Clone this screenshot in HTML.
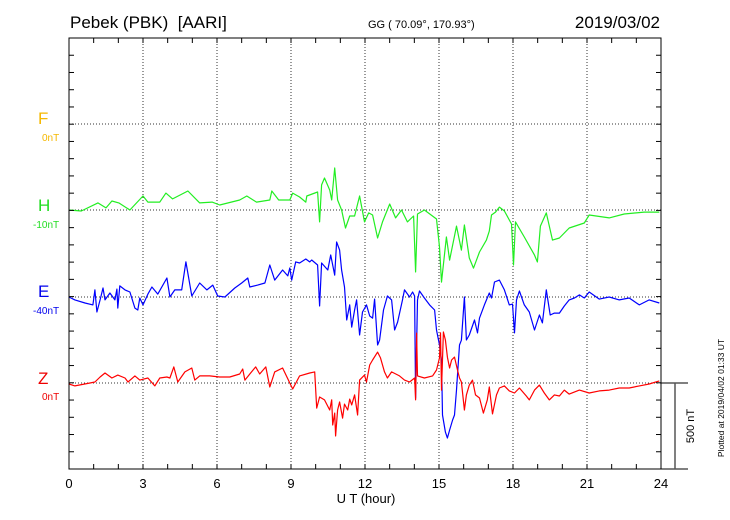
<!DOCTYPE html>
<html><head><meta charset="utf-8">
<style>
body{margin:0;background:#fff;}
svg{display:block;font-family:"Liberation Sans",sans-serif;}
</style></head>
<body>
<svg id="chart" width="730" height="520" viewBox="0 0 730 520" xmlns="http://www.w3.org/2000/svg">
<text x="70" y="28" font-size="17">Pebek (PBK)&#160; [AARI]</text>
<text x="368" y="28" font-size="11">GG ( 70.09°, 170.93°)</text>
<text x="660" y="28" font-size="17" text-anchor="end">2019/03/02</text>
<g id="grid"></g>
<g id="series"></g>
<rect x="69" y="38" width="592" height="431" fill="none" stroke="#000" stroke-width="1"/>
<g id="ticks"></g>
<text x="38" y="124" font-size="17" fill="#f5b800">F</text>
<text x="42" y="141" font-size="10" fill="#f5b800">0nT</text>
<text x="38" y="211" font-size="17" fill="#22dd22">H</text>
<text x="33" y="228" font-size="10" fill="#22dd22">-10nT</text>
<text x="38" y="297" font-size="17" fill="#0000ee">E</text>
<text x="33" y="314" font-size="10" fill="#0000ee">-40nT</text>
<text x="38" y="384" font-size="17" fill="#ee0000">Z</text>
<text x="42" y="400" font-size="10" fill="#ee0000">0nT</text>
<text x="366" y="503" font-size="13" text-anchor="middle">U T (hour)</text>
<line x1="661" y1="383" x2="688" y2="383" stroke="#000"/>
<line x1="661" y1="469" x2="688" y2="469" stroke="#000"/>
<line x1="675" y1="383" x2="675" y2="469" stroke="#555" stroke-width="1.5"/>
<text transform="translate(694,426) rotate(-90)" font-size="11" text-anchor="middle">500 nT</text>
<text transform="translate(724,398) rotate(-90)" font-size="8.5" text-anchor="middle">Plotted at 2019/04/02 01:33 UT</text>
</svg>
<script>
const xTicks=[0,3,6,9,12,15,18,21,24];
const hT=[0,0.5,1.17,1.5,1.74,2.02,2.47,3.0,3.2,3.68,3.93,4.2,4.82,5.3,5.8,6.11,6.92,7.21,7.6,8.14,8.22,8.5,8.95,9.07,9.35,9.6,9.64,10.08,10.16,10.24,10.36,10.57,10.65,10.77,10.89,11.05,11.21,11.38,11.58,11.78,11.98,12.15,12.31,12.51,12.71,13.0,13.24,13.48,13.72,13.97,14.05,14.13,14.41,14.9,15.02,15.1,15.3,15.43,15.71,15.91,16.03,16.23,16.4,16.64,16.92,17.04,17.13,17.29,17.45,17.65,17.94,18.02,18.1,18.46,18.87,18.99,19.11,19.35,19.6,19.88,20.28,20.89,21.09,21.9,22.51,23.32,23.93];
const hV=[0,-6,41,12,52,41,0,81,46,46,98,64,110,41,46,29,58,81,46,58,110,58,58,98,75,46,81,104,-69,145,185,116,58,243,58,0,-104,-35,-35,81,-69,-17,-29,-162,-69,35,-46,0,-69,-35,-359,-23,0,-52,-214,-417,-156,-290,-93,-232,-87,-278,-336,-243,-174,-122,-29,-12,17,-6,-81,-318,-69,-156,-261,-301,-93,-17,-174,-162,-104,-75,-29,-46,-23,-12,-12];
const eT=[0,0.24,0.65,0.97,1.05,1.13,1.26,1.38,1.46,1.66,1.86,1.94,1.98,2.06,2.27,2.47,2.67,2.79,2.87,3.0,3.2,3.36,3.6,3.97,4.09,4.29,4.57,4.74,4.98,5.3,5.59,5.83,6.03,6.32,6.72,7.0,7.25,7.33,7.65,7.94,8.14,8.34,8.66,8.87,8.95,9.03,9.19,9.35,9.6,9.76,9.84,10.08,10.16,10.24,10.49,10.61,10.77,10.85,10.97,11.05,11.17,11.26,11.38,11.46,11.58,11.66,11.78,11.9,12.06,12.19,12.31,12.39,12.51,12.59,12.75,12.91,13.08,13.2,13.32,13.52,13.6,13.81,13.93,14.01,14.05,14.13,14.21,14.41,14.62,14.82,14.9,15.02,15.1,15.14,15.26,15.34,15.43,15.55,15.63,15.71,15.83,15.91,16.03,16.11,16.23,16.44,16.56,16.64,16.84,17.04,17.13,17.25,17.45,17.65,17.85,17.98,18.06,18.14,18.26,18.46,18.66,18.87,19.07,19.19,19.35,19.51,19.68,19.88,20.08,20.28,20.49,20.69,20.89,21.09,21.5,21.9,22.31,22.71,23.12,23.52,23.93];
const eV=[0,-17,-35,-46,41,-87,-17,52,-17,23,-17,46,-64,64,41,29,-64,-75,-6,-46,17,58,17,110,0,41,41,203,6,81,41,69,6,0,52,81,110,58,69,81,185,98,156,122,168,98,203,197,220,203,214,185,-52,197,156,243,127,318,272,156,58,-133,-46,-174,-75,-17,-220,-87,-46,-110,-122,-12,-278,-249,-75,6,-17,-191,-145,-17,41,0,29,6,-585,-17,35,-6,-46,-75,-191,-278,-365,-683,-782,-816,-770,-712,-683,-538,-278,-250,0,-249,-220,-133,-208,-122,-46,23,-6,87,98,41,-46,-41,-208,-17,35,-46,-87,-191,-104,-150,41,-104,-93,-93,-52,-17,-6,12,-6,29,-12,0,-17,-6,-46,-17,-35];
const zT=[0,0.24,0.85,1.05,1.26,1.46,1.74,1.98,2.27,2.39,2.67,2.87,3.2,3.48,3.68,3.97,4.09,4.25,4.41,4.7,4.98,5.1,5.3,5.71,6.11,6.52,6.92,7.04,7.13,7.33,7.57,7.73,7.98,8.14,8.34,8.66,8.95,9.07,9.35,9.76,9.96,10.04,10.16,10.36,10.57,10.65,10.69,10.77,10.81,10.89,10.97,11.09,11.17,11.3,11.38,11.46,11.58,11.7,11.78,11.98,12.06,12.19,12.31,12.51,12.63,12.79,12.91,13.08,13.4,13.6,13.81,14.01,14.05,14.09,14.13,14.41,14.74,14.9,15.02,15.06,15.1,15.18,15.26,15.34,15.43,15.51,15.63,15.75,15.83,15.91,16.03,16.11,16.23,16.36,16.48,16.64,16.8,16.96,17.04,17.17,17.33,17.45,17.65,17.85,18.06,18.26,18.54,18.66,18.87,19.07,19.27,19.47,19.68,19.88,20.08,20.28,20.69,21.09,21.5,21.9,22.31,22.71,23.12,23.52,23.93];
const zV=[-6,-17,0,6,35,58,29,46,29,6,41,17,29,-17,29,35,29,93,6,64,87,17,41,41,35,35,52,81,17,52,93,52,93,-23,64,87,0,-35,41,58,64,-145,-81,-98,-156,-98,-243,-174,-307,-156,-110,-203,-122,-156,-93,-127,-69,-185,17,46,6,104,133,179,145,64,29,64,41,17,6,29,-98,289,41,29,41,75,145,290,-41,295,249,150,87,133,150,75,29,6,-156,-69,-12,17,-69,-87,-174,-98,-23,-179,-69,-29,-17,-46,-58,-29,-75,-98,-41,-12,-58,-98,-69,-75,-41,-64,-41,-58,-46,-41,-29,-29,-17,-6,12];
const baselines=[124,210,297,383];
const NS="http://www.w3.org/2000/svg";
const X0=69,X1=661,Y0=38,Y1=469;
const xScale=h=>X0+h*(X1-X0)/24;
const yScale=(base,v)=>base-v*86.4/500;
const grid=document.getElementById('grid'),ticks=document.getElementById('ticks'),ser=document.getElementById('series');
function ln(p,x1,y1,x2,y2,st,dash,w){const l=document.createElementNS(NS,'line');l.setAttribute('x1',x1);l.setAttribute('y1',y1);l.setAttribute('x2',x2);l.setAttribute('y2',y2);l.setAttribute('stroke',st);l.setAttribute('stroke-width',w||1);if(dash)l.setAttribute('stroke-dasharray',dash);p.appendChild(l);return l;}
xTicks.forEach(h=>{
  const x=xScale(h);
  if(h>0&&h<24){const g=ln(grid,x,Y0,x,Y1,'#333','1 2');
  
  }
  const t=document.createElementNS(NS,'text');t.setAttribute('x',x);t.setAttribute('y',488);t.setAttribute('font-size','13');t.setAttribute('text-anchor','middle');t.textContent=h;
  
  
  ticks.appendChild(t);
});
baselines.forEach(b=>{const g=ln(grid,X0,b,X1,b,'#333','1 2');
  
  });
for(let h=0;h<=24;h++){const x=xScale(h);ln(ticks,x,Y0,x,Y0+5,'#000');ln(ticks,x,Y1,x,Y1-5,'#000');}
for(let i=0;i<=25;i++){const y=Y0+i*(Y1-Y0)/25;ln(ticks,X0,y,X0+5,y,'#000');ln(ticks,X1,y,X1-5,y,'#000');}
function draw(T,V,base,color,name){
  const p=document.createElementNS(NS,'polyline');
  p.setAttribute('points',T.map((t,i)=>xScale(t).toFixed(1)+','+yScale(base,V[i]).toFixed(1)).join(' '));
  p.setAttribute('fill','none');p.setAttribute('stroke',color);p.setAttribute('stroke-width','1.2');p.setAttribute('stroke-linejoin','round');
  
  
  ser.appendChild(p);
}
draw(hT,hV,baselines[1],'#22ee22','h-component-line');
draw(eT,eV,baselines[2],'#0000ff','e-component-line');
draw(zT,zV,baselines[3],'#ff0000','z-component-line');
</script>
</body></html>
